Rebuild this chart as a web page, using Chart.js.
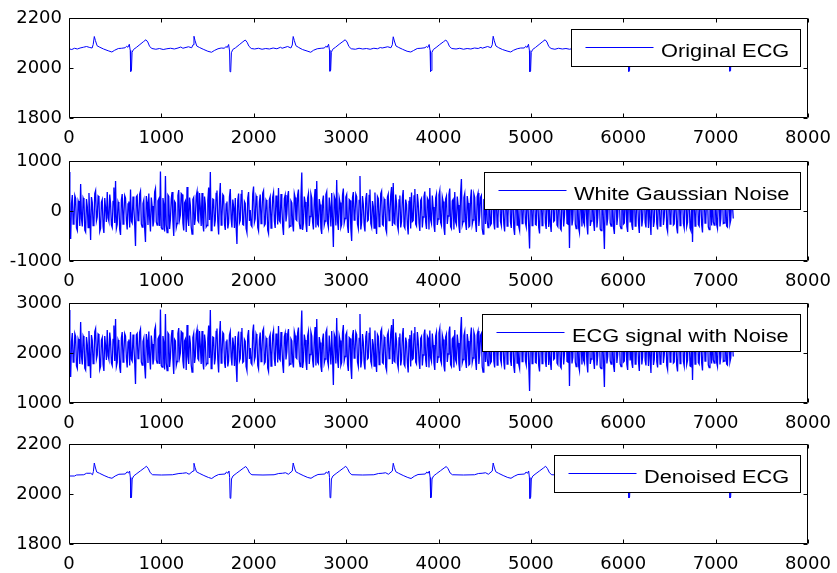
<!DOCTYPE html>
<html><head><meta charset="utf-8">
<script src="https://cdn.jsdelivr.net/npm/chart.js@4.4.1/dist/chart.umd.min.js"></script>
<style>
html,body{margin:0;padding:0;background:#fff;}
#wrap{position:relative;width:837px;height:573px;overflow:hidden;background:#fff;}
canvas{position:absolute;left:0;}
</style></head><body><div id="wrap">
<canvas id="c1" width="837" height="150" style="top:0px"></canvas>
<canvas id="c2" width="837" height="150" style="top:143px"></canvas>
<canvas id="c3" width="837" height="150" style="top:285px"></canvas>
<canvas id="c4" width="837" height="147" style="top:426px"></canvas>
</div>
<script>
// ---- data ----
const SAMPLE_STEP = 9; // spacing (in samples) of the noise readings below
const xTickValues = [0, 1000, 2000, 3000, 4000, 5000, 6000, 7000, 8000];
const legendLabels = ['Original ECG', 'White Gaussian Noise', 'ECG signal with Noise', 'Denoised ECG'];
const yTicks1 = [1800, 2000, 2200];
const yTicks2 = [-1000, 0, 1000];
const yTicks3 = [1000, 2000, 3000];
const yTicks4 = [1800, 2000, 2200];

const originalEcg = [
[0,2077],[30,2074],[60,2079],[90,2076],[120,2080],[155,2083],[190,2086],[225,2082],[250,2080],[262,2094],[274,2126],[286,2110],[304,2089],[334,2083],[374,2076],[424,2069],[464,2064],[494,2071],[534,2078],[570,2079],[608,2081],[623,2087],[638,2083],[653,2095],[663,2070],[668,1986],[676,1990],[683,2063],[698,2074],[728,2082],[768,2094],[808,2106],[833,2113],[853,2104],[873,2086],[898,2078],[940,2075],[980,2078],[1020,2074],[1060,2077],[1100,2079],[1140,2076],[1180,2080],[1210,2084],
[1233,2079],[1293,2085],[1328,2081],[1343,2093],[1353,2127],[1365,2109],[1383,2088],[1413,2082],[1453,2075],[1503,2067],[1543,2063],[1573,2070],[1613,2077],[1648,2080],[1683,2079],[1698,2086],[1713,2082],[1728,2094],[1738,2068],[1743,1985],[1751,1989],[1758,2061],[1773,2074],[1803,2081],[1843,2093],[1883,2105],[1908,2112],[1928,2103],[1948,2087],[1973,2078],[2010,2076],[2050,2079],[2090,2075],[2130,2078],[2170,2076],[2210,2080],[2250,2077],[2290,2083],
[2307,2079],[2367,2086],[2402,2080],[2417,2092],[2427,2126],[2439,2110],[2457,2089],[2487,2082],[2527,2074],[2577,2068],[2617,2063],[2647,2071],[2687,2077],[2730,2079],[2765,2080],[2780,2087],[2795,2083],[2810,2095],[2820,2071],[2825,1987],[2833,1991],[2840,2063],[2855,2075],[2885,2083],[2925,2095],[2965,2106],[2990,2113],[3010,2104],[3030,2086],[3055,2077],[3100,2075],[3140,2079],[3180,2076],[3220,2078],[3260,2075],[3300,2079],[3340,2077],[3370,2082],
[3390,2080],[3450,2085],[3485,2081],[3500,2093],[3510,2125],[3522,2108],[3540,2088],[3570,2082],[3610,2075],[3660,2067],[3700,2064],[3730,2070],[3770,2078],[3810,2079],[3854,2081],[3869,2086],[3884,2082],[3899,2094],[3909,2069],[3914,1986],[3922,1990],[3929,2062],[3944,2074],[3974,2082],[4014,2094],[4054,2105],[4079,2112],[4099,2103],[4119,2086],[4144,2078],[4190,2076],[4230,2079],[4270,2075],[4310,2078],[4350,2076],[4390,2080],[4430,2078],[4460,2083],
[4472,2079],[4532,2086],[4567,2081],[4582,2093],[4592,2127],[4604,2109],[4622,2088],[4652,2081],[4692,2074],[4742,2068],[4782,2064],[4812,2071],[4852,2077],[4890,2080],[4929,2080],[4944,2087],[4959,2082],[4974,2095],[4984,2070],[4989,1985],[4997,1989],[5004,2062],[5019,2074],[5049,2082],[5089,2094],[5129,2106],[5154,2113],[5174,2104],[5194,2086],[5219,2078],[5260,2075],[5300,2079],[5340,2076],[5380,2078],[5420,2075],[5460,2079],[5500,2077],[5530,2082],
[5545,2080],[5605,2085],[5640,2080],[5655,2092],[5665,2126],[5677,2110],[5695,2089],[5725,2082],[5765,2075],[5815,2068],[5855,2063],[5885,2070],[5925,2077],[5965,2079],[6000,2081],[6015,2086],[6030,2082],[6045,2094],[6055,2069],[6060,1986],[6068,1990],[6075,2063],[6090,2074],[6120,2082],[6160,2093],[6200,2105],[6225,2112],[6245,2103],[6265,2086],[6290,2078],[6330,2076],[6370,2079],[6410,2075],[6450,2078],[6490,2076],[6530,2080],[6570,2077],[6605,2083],
[6630,2079],[6690,2086],[6725,2081],[6740,2093],[6750,2126],[6762,2109],[6780,2088],[6810,2082],[6850,2075],[6900,2067],[6940,2064],[6970,2071],[7010,2078],[7050,2079],[7094,2080],[7109,2087],[7124,2082],[7139,2094],[7149,2070],[7154,1987],[7162,1990],[7169,2062],[7184,2074],[7200,2079]
];

const whiteNoise = [
780,-420,-560,150,320,-260,-180,310,250,-340,-390,200,140,-300,540,-150,-310,260,210,-380,-420,240,90,-330,360,-120,-580,280,170,-290,-260,350,410,-200,-120,300,280,-410,-350,180,
230,-310,-440,260,60,-220,380,-140,-210,330,150,-280,-330,190,470,-240,600,-350,-270,180,120,-370,-480,220,340,-260,-90,310,260,-180,-370,140,190,-330,430,-200,-240,290,70,-260,
-700,280,310,-190,-150,340,400,-260,-320,150,220,-350,-620,300,180,-280,350,-160,-410,270,100,-310,-200,380,450,-220,-280,200,240,-300,790,-330,-360,260,130,-410,700,-280,-430,320,
290,-360,-170,240,380,-210,-500,190,160,-330,-250,310,420,-170,-80,350,330,-240,-390,160,200,-420,480,-150,-300,270,110,-320,-460,230,270,-280,-140,300,390,-190,-220,360,50,-300,
360,-250,-410,290,140,-320,-290,210,470,-180,780,-390,-350,240,230,-310,-180,350,410,-220,-470,270,560,-280,-120,330,300,-260,-380,140,190,-350,-240,280,440,-160,-330,230,80,-340,
260,-300,-660,210,350,-240,-190,330,420,-270,-280,190,150,-350,-430,260,380,-200,20,-280,-310,340,490,-230,-160,300,240,-330,-400,180,330,-250,-70,360,410,-290,-260,220,180,-380,
-450,230,290,-340,-130,280,370,-200,-340,310,210,-270,460,-190,-220,340,100,-300,-480,250,320,-210,-60,290,400,-320,-300,200,160,-260,-410,350,270,-170,-190,320,430,-240,-350,270,
770,-380,-240,290,180,-250,-420,260,350,-300,-110,340,260,-220,-370,210,440,-330,600,-260,-290,240,130,-350,-460,190,310,-280,-200,330,390,-240,-330,270,80,-310,360,-180,-720,300,
240,-290,620,-210,-380,260,170,-330,-270,320,450,-240,-150,280,330,-300,-440,230,210,-350,-600,270,380,-180,-90,340,290,-260,-350,210,700,-370,-230,300,140,-280,-410,250,360,-200,
-180,310,430,-250,-320,200,90,-340,370,-230,-460,290,250,-310,-140,350,400,-270,-290,240,200,-360,-430,280,340,-190,-70,320,480,-300,560,-240,-260,330,150,-290,-380,220,310,-330,
-210,270,420,-300,-340,230,130,-280,-470,190,280,-350,370,-210,-190,300,440,-260,-300,340,170,-240,-400,210,250,-330,-120,290,390,-220,-360,260,220,-370,460,-180,-250,310,80,-290,
-420,260,340,-280,-160,320,410,-230,-290,280,190,-340,-480,240,300,-260,-100,330,450,-310,-350,200,230,-370,380,-220,-270,290,120,-300,-440,350,640,-280,-210,270,350,-240,-380,300,
160,-320,-300,250,430,-270,-180,340,270,-230,-420,290,360,-300,-90,270,310,-350,-460,220,210,-260,480,-190,-330,310,140,-280,-250,340,400,-240,-370,230,260,-320,-150,280,420,-210,
-290,310,180,-260,-410,240,350,-300,-120,330,470,-220,-340,270,230,-350,-480,210,300,-280,60,-310,-390,340,410,-250,-200,300,280,-240,-320,280,150,-330,-750,260,370,-290,-230,320,
440,-270,-280,300,190,-330,-450,250,330,-290,-140,320,400,-240,-360,280,250,-320,100,-260,-420,290,370,-210,-190,340,460,-280,-310,230,210,-350,-380,270,290,-310,-90,330,430,-250,
-260,280,-740,210,320,-290,-170,330,450,-260,-350,300,240,-340,-430,250,160,-310,390,-230,-280,340,110,-280,-470,260,360,-300,-200,350,280,-220,-400,290,470,-330,-130,270,310,-360,
-390,300,220,-270,-760,230,340,-290,-150,310,420,-240,-300,270,180,-330,-460,240,370,-280,-110,320,260,-300,-350,290,480,-260,-240,340,130,-310,-420,250,320,-230,60,-280,-380,270,
410,-300,-270,320,200,-250,-440,280,350,-310,-160,270,460,-230,-330,300,90,-340,380,-200,-480,290,240,-320,-210,330,430,-260,-370,240,170,-300,-290,310,400,-280,-120,260,290,-330,
-410,290,330,-260,-180,320,470,-280,-260,240,150,-330,-450,270,380,-290,-100,310,300,-250,-340,280,420,-310,-230,300,190,-340,-390,220,-620,260,270,-300,-150,330,440,-270,-300,250,
210,-280,-430,310,360,-240,-190,300,280,-320,-370,260,130,-290,410,-220,-280,330,220,-270,-350,240,300,-310,-160,280,370,-250,-240,290,190,-300,-320,230,250,-260,-180,210,120,-150
];

const noisyEcg = [
2860,1660,1520,2230,2400,1820,1900,2390,2330,1740,1690,2280,2220,1780,2620,1930,1770,2340,2290,1700,1660,2320,2170,1750,2440,1960,1500,2360,2250,1790,1860,2430,2490,1880,1960,2380,2360,1670,1730,2260,
2310,1770,1640,2340,2140,1860,2460,1940,1870,2410,2230,1800,1750,2270,2550,1840,2680,1730,1810,2260,2200,1710,1600,2300,2420,1820,1990,2390,2340,1900,1710,2220,2270,1750,2420,1880,1840,2370,2150,1820,
1380,2360,2390,1890,1930,2420,2480,1820,1760,2230,2300,1730,1490,2380,2260,1800,2430,1920,1670,2350,2180,1770,1880,2460,2530,1860,1800,2280,2320,1780,2870,1750,1720,2340,2210,1670,2780,1800,1650,2400,
2370,1720,1910,2320,2460,1870,1580,2270,2240,1750,1830,2390,2500,1910,2000,2430,2410,1840,1690,2240,2280,1660,2560,1930,1780,2350,2190,1760,1620,2310,2390,1800,1940,2380,2470,1890,1860,2440,2130,1780,
2440,1830,1670,2370,2220,1760,1790,2290,2550,1900,2860,1690,1730,2320,2310,1770,1900,2430,2490,1860,1610,2350,2640,1800,1960,2410,2380,1820,1700,2220,2270,1730,1840,2360,2430,1920,1750,2310,2160,1740,
2340,1780,1420,2290,2430,1840,1890,2410,2500,1810,1830,2270,2230,1730,1650,2340,2460,1880,2100,1800,1770,2420,2570,1850,1920,2380,2320,1750,1680,2260,2410,1830,2010,2440,2490,1790,1820,2300,2260,1700,
1630,2310,2370,1740,1950,2360,2450,1880,1740,2390,2290,1810,2540,1890,1860,2420,2180,1780,1600,2330,2400,1870,2020,2370,2480,1760,1780,2280,2240,1820,1710,2430,2350,1910,1890,2400,2510,1840,1730,2350,
2850,1700,1840,2370,2260,1830,1660,2340,2430,1780,1970,2420,2340,1860,1710,2290,2520,1750,2680,1820,1790,2320,2210,1730,1620,2270,2390,1800,1880,2410,2470,1840,1750,2350,2070,1770,2440,1900,1360,2380,
2320,1790,2700,1870,1700,2340,2250,1750,1810,2400,2560,1840,1930,2360,2410,1780,1640,2310,2290,1730,1480,2350,2460,1900,1990,2420,2370,1820,1730,2290,2780,1710,1850,2380,2220,1800,1670,2330,2440,1880,
1900,2390,2510,1830,1760,2280,2170,1740,2450,1850,1620,2370,2330,1770,1940,2430,2480,1810,1790,2320,2280,1720,1650,2360,2420,1890,2010,2400,2560,1780,2680,1840,1820,2410,2230,1790,1700,2300,2390,1750,
1870,2350,2500,1780,1740,2310,2210,1800,1610,2270,2360,1730,2450,1870,1890,2380,2520,1820,1780,2420,2250,1840,1680,2290,2330,1750,1960,2370,2470,1860,1720,2340,2300,1710,2450,1900,1830,2390,2160,1790,
1660,2340,2420,1800,1920,2400,2490,1850,1790,2360,2270,1740,1630,2320,2380,1820,1980,2410,2530,1770,1730,2280,2310,1710,2460,1860,1810,2370,2200,1780,1640,2430,2720,1800,1870,2350,2430,1840,1700,2380,
2240,1760,1780,2330,2510,1810,1900,2420,2350,1850,1660,2370,2440,1780,1990,2350,2390,1730,1620,2300,2290,1820,2560,1890,1750,2390,2220,1800,1830,2420,2520,1840,1710,2310,2340,1760,1930,2360,2500,1870,
1790,2390,2260,1820,1670,2320,2430,1780,1960,2410,2550,1860,1740,2350,2310,1730,1600,2290,2380,1800,2140,1770,1690,2420,2490,1830,1880,2380,2360,1840,1760,2360,2230,1750,1240,2340,2450,1790,1850,2400,
2520,1810,1800,2380,2270,1750,1630,2330,2410,1790,1940,2400,2510,1840,1720,2360,2330,1760,2180,1820,1660,2370,2450,1870,1890,2420,2540,1800,1770,2310,2290,1730,1700,2350,2370,1770,1990,2410,2510,1830,
1820,2360,1340,2290,2400,1790,1910,2410,2530,1820,1730,2380,2320,1740,1650,2330,2240,1770,2470,1850,1800,2420,2190,1800,1610,2340,2440,1780,1880,2430,2400,1860,1680,2370,2550,1750,1950,2350,2390,1720,
1690,2380,2300,1810,1320,2310,2420,1790,1930,2390,2500,1840,1780,2350,2260,1750,1620,2320,2450,1800,1970,2400,2340,1780,1730,2370,2560,1820,1840,2420,2210,1770,1660,2330,2310,1850,2140,1800,1700,2350,
2490,1780,1810,2400,2280,1830,1640,2360,2430,1770,1920,2350,2570,1850,1750,2380,2170,1740,2460,1880,1600,2370,2320,1760,1870,2410,2510,1820,1710,2320,2250,1780,1790,2390,2480,1800,1960,2340,2370,1750,
1670,2370,2410,1820,1900,2400,2550,1800,1820,2320,2230,1750,1630,2350,2460,1790,1980,2390,2380,1830,1740,2360,2500,1770,1850,2380,2270,1740,1730,2300,1460,2340,2350,1780,1930,2410,2520,1810,1780,2330,
2290,1800,1650,2390,2440,1840,1890,2380,2360,1760,1710,2340,2210,1790,2490,1860,1800,2410,2300,1810,1730,2320,2380,1770,1920,2360,2450,1830,1840,2370,2270,1780,1760,2310,2240,1820,1900,2290,2200,1930
];

const denoisedEcg = [
[0,2072],[60,2072],[80,2076],[160,2077],[190,2083],[235,2083],[255,2077],[264,2090],[274,2124],[284,2108],[300,2088],[330,2083],[380,2074],[430,2066],[465,2063],[500,2072],[540,2079],[610,2080],[628,2089],[645,2084],[656,2092],[664,2066],[669,1984],[677,1988],[684,2060],[700,2072],[735,2082],[775,2093],[815,2104],[838,2111],[858,2102],[880,2085],[905,2077],[1000,2076],[1120,2077],[1190,2082],[1230,2083],
[1270,2085],[1300,2079],[1343,2092],[1353,2123],[1364,2107],[1380,2089],[1410,2083],[1460,2074],[1510,2066],[1545,2062],[1580,2071],[1620,2078],[1690,2080],[1705,2088],[1720,2083],[1732,2092],[1739,2066],[1744,1983],[1752,1987],[1759,2060],[1775,2072],[1810,2082],[1850,2093],[1890,2104],[1913,2110],[1933,2101],[1955,2084],[1980,2077],[2100,2076],[2220,2077],[2270,2082],[2310,2083],
[2345,2085],[2375,2079],[2417,2092],[2427,2124],[2438,2108],[2455,2089],[2485,2083],[2535,2074],[2585,2066],[2620,2063],[2655,2071],[2695,2078],[2770,2080],[2785,2088],[2800,2083],[2813,2092],[2820,2066],[2826,1985],[2834,1988],[2841,2060],[2857,2072],[2892,2082],[2932,2093],[2972,2104],[2995,2111],[3015,2102],[3037,2085],[3062,2077],[3180,2076],[3300,2077],[3350,2082],[3390,2083],
[3428,2085],[3458,2079],[3500,2092],[3510,2123],[3521,2107],[3538,2089],[3568,2083],[3618,2074],[3668,2066],[3703,2062],[3738,2071],[3778,2078],[3858,2080],[3873,2088],[3888,2083],[3901,2092],[3909,2066],[3915,1984],[3923,1988],[3930,2060],[3946,2072],[3981,2082],[4021,2093],[4061,2104],[4084,2110],[4104,2101],[4126,2084],[4151,2077],[4270,2076],[4390,2077],[4432,2082],[4472,2083],
[4510,2085],[4540,2079],[4582,2092],[4592,2124],[4603,2108],[4620,2089],[4650,2083],[4700,2074],[4750,2066],[4785,2063],[4820,2071],[4860,2078],[4933,2080],[4948,2088],[4963,2083],[4976,2092],[4984,2066],[4990,1982],[4998,1987],[5005,2060],[5021,2072],[5056,2082],[5096,2093],[5136,2104],[5159,2111],[5179,2102],[5201,2085],[5226,2077],[5340,2076],[5460,2077],[5505,2082],[5545,2083],
[5583,2085],[5613,2079],[5655,2092],[5665,2123],[5676,2107],[5693,2089],[5723,2083],[5773,2074],[5823,2066],[5858,2062],[5893,2071],[5933,2078],[6004,2080],[6019,2088],[6034,2083],[6047,2092],[6055,2066],[6061,1984],[6069,1988],[6076,2060],[6092,2072],[6127,2082],[6167,2093],[6207,2104],[6230,2110],[6250,2101],[6272,2085],[6297,2077],[6420,2076],[6540,2077],[6590,2082],[6630,2083],
[6668,2085],[6698,2079],[6740,2092],[6750,2124],[6761,2108],[6778,2089],[6808,2083],[6858,2074],[6908,2066],[6943,2062],[6978,2071],[7018,2078],[7098,2080],[7113,2088],[7128,2083],[7141,2092],[7149,2066],[7155,1984],[7163,1988],[7170,2060],[7186,2072],[7200,2076]
];

// ---- drawing ----
const TEXT_STRETCH = 1.21;
const framePlugin = {
  id: 'matlabFrame',
  afterDatasetsDraw(chart) {
    const ctx = chart.ctx, a = chart.chartArea, xs = chart.scales.x, ys = chart.scales.y;
    ctx.save();
    ctx.strokeStyle = '#000';
    ctx.lineWidth = 1;
    const L = Math.round(a.left) + 0.5, R = Math.round(a.right) - 0.5;
    const T = Math.round(a.top) + 0.5, B = Math.round(a.bottom) - 0.5;
    ctx.beginPath();
    ctx.rect(L, T, R - L, B - T);
    xs.ticks.forEach(t => {
      const px = Math.round(xs.getPixelForValue(t.value)) + 0.5;
      ctx.moveTo(px, B); ctx.lineTo(px, B - 4);
      ctx.moveTo(px, T); ctx.lineTo(px, T + 4);
    });
    ys.ticks.forEach(t => {
      const py = Math.round(ys.getPixelForValue(t.value)) + 0.5;
      ctx.moveTo(L, py); ctx.lineTo(L + 4, py);
      ctx.moveTo(R, py); ctx.lineTo(R - 4, py);
    });
    ctx.stroke();

    // legend box (inside the axes, upper right, like MATLAB)
    const ds = chart.data.datasets[0];
    ctx.font = '18px "Liberation Sans", Arial, sans-serif';
    const tw = ctx.measureText(ds.label).width * TEXT_STRETCH;
    const bw = Math.round(14 + 68 + 8 + tw + 11), bh = 37;
    const bx = Math.round(a.right - 8 - bw) + 0.5, by = Math.round(a.top + 11) + 0.5;
    ctx.fillStyle = '#fff';
    ctx.fillRect(bx, by, bw, bh);
    ctx.strokeStyle = '#000';
    ctx.strokeRect(bx, by, bw, bh);
    ctx.beginPath();
    ctx.strokeStyle = ds.borderColor;
    ctx.lineWidth = 1;
    ctx.moveTo(bx + 14, by + 18); ctx.lineTo(bx + 82, by + 18);
    ctx.stroke();
    ctx.fillStyle = '#000';
    ctx.textBaseline = 'alphabetic';
    ctx.textAlign = 'left';
    ctx.translate(bx + 89.5, by + 27);
    ctx.scale(TEXT_STRETCH, 1);
    ctx.fillText(ds.label, 0, 0);
    ctx.restore();
  }
};

function makeChart(id, label, points, yTicks, canvasHeight, lineWidth) {
  const tickFont = { family: '"DejaVu Sans", sans-serif', size: 18 };
  const hiddenGrid = len => ({ display: true, drawOnChartArea: false, drawTicks: true,
                               tickLength: len, color: 'rgba(0,0,0,0)', tickColor: 'rgba(0,0,0,0)' });
  new Chart(document.getElementById(id), {
    type: 'line',
    data: { datasets: [{
      label: label,
      data: points,
      borderColor: '#0000ff',
      borderWidth: lineWidth,
      pointRadius: 0,
      tension: 0,
      fill: false
    }]},
    options: {
      responsive: false,
      devicePixelRatio: 1,
      animation: false,
      events: [],
      layout: { padding: { top: 18, right: 29, left: 0, bottom: 0 } },
      plugins: { legend: { display: false }, tooltip: { enabled: false } },
      scales: {
        x: {
          type: 'linear',
          min: xTickValues[0], max: xTickValues[xTickValues.length - 1],
          afterBuildTicks: s => { s.ticks = xTickValues.map(v => ({ value: v })); },
          afterFit: s => { s.height = canvasHeight - 18 - 100; },
          grid: hiddenGrid(10),
          border: { display: false },
          ticks: { font: tickFont, color: '#000', padding: 0, maxRotation: 0, autoSkip: false,
                   callback: v => String(v) }
        },
        y: {
          type: 'linear',
          min: yTicks[0], max: yTicks[yTicks.length - 1],
          afterBuildTicks: s => { s.ticks = yTicks.map(v => ({ value: v })); },
          afterFit: s => { s.width = 69; },
          grid: hiddenGrid(7),
          border: { display: false },
          ticks: { font: tickFont, color: '#000', padding: 0, callback: v => String(v) }
        }
      }
    },
    plugins: [framePlugin]
  });
}

const toXY = pairs => pairs.map(p => ({ x: p[0], y: p[1] }));
const seriesXY = vals => vals.map((v, i) => ({ x: i * SAMPLE_STEP, y: v }));

makeChart('c1', legendLabels[0], toXY(originalEcg), yTicks1, 150, 1);
makeChart('c2', legendLabels[1], seriesXY(whiteNoise), yTicks2, 150, 1.3);
makeChart('c3', legendLabels[2], seriesXY(noisyEcg), yTicks3, 150, 1.3);
makeChart('c4', legendLabels[3], toXY(denoisedEcg), yTicks4, 147, 1);
</script>
</body></html>
